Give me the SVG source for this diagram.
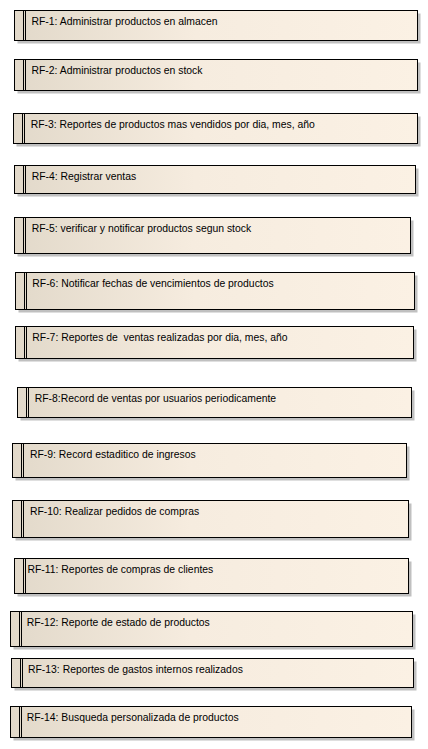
<svg xmlns="http://www.w3.org/2000/svg" width="428" height="749" viewBox="0 0 428 749">
<defs>
<linearGradient id="g" x1="0" y1="0" x2="1" y2="0">
<stop offset="0" stop-color="#e2d9ca"/>
<stop offset="0.45" stop-color="#f6ecdf"/>
<stop offset="1" stop-color="#fbf1e4"/>
</linearGradient>
</defs>
<style>
.sh{fill:#c0c0c0;stroke:none}
.bx{fill:url(#g);stroke:#000;stroke-width:1}
.bar{stroke:#000;stroke-width:1;fill:none}
.t{font-family:"Liberation Sans",Arial,sans-serif;font-size:10.4px;fill:#000}
</style>
<rect width="428" height="749" fill="#fff"/>
<g id="RF-1">
<rect class="sh" x="17.5" y="13.5" width="403" height="30"/>
<rect class="bx" x="14.5" y="10.5" width="403" height="30"/>
<path class="bar" d="M23.5 10.5V40.5M25.5 10.5V40.5"/>
<text class="t" x="31.5" y="25">RF-1: Administrar productos en almacen</text>
</g>
<g id="RF-2">
<rect class="sh" x="17.5" y="62.5" width="403" height="31"/>
<rect class="bx" x="14.5" y="59.5" width="403" height="31"/>
<path class="bar" d="M23.5 59.5V90.5M25.5 59.5V90.5"/>
<text class="t" x="31.5" y="74">RF-2: Administrar productos en stock</text>
</g>
<g id="RF-3">
<rect class="sh" x="16.5" y="116.5" width="404" height="30"/>
<rect class="bx" x="13.5" y="113.5" width="404" height="30"/>
<path class="bar" d="M22.5 113.5V143.5M24.5 113.5V143.5"/>
<text class="t" x="30.7" y="128">RF-3: Reportes de productos mas vendidos por dia, mes, año</text>
</g>
<g id="RF-4">
<rect class="sh" x="17.5" y="168.5" width="401" height="28"/>
<rect class="bx" x="14.5" y="165.5" width="401" height="28"/>
<path class="bar" d="M23.5 165.5V193.5M25.5 165.5V193.5"/>
<text class="t" x="31.7" y="180">RF-4: Registrar ventas</text>
</g>
<g id="RF-5">
<rect class="sh" x="17.5" y="220.5" width="396" height="36"/>
<rect class="bx" x="14.5" y="217.5" width="396" height="36"/>
<path class="bar" d="M23.5 217.5V253.5M25.5 217.5V253.5"/>
<text class="t" x="31.7" y="232">RF-5: verificar y notificar productos segun stock</text>
</g>
<g id="RF-6">
<rect class="sh" x="18.5" y="275.5" width="399" height="37"/>
<rect class="bx" x="15.5" y="272.5" width="399" height="37"/>
<path class="bar" d="M24.5 272.5V309.5M26.5 272.5V309.5"/>
<text class="t" x="32.3" y="287">RF-6: Notificar fechas de vencimientos de productos</text>
</g>
<g id="RF-7">
<rect class="sh" x="18.5" y="329.5" width="398" height="32"/>
<rect class="bx" x="15.5" y="326.5" width="398" height="32"/>
<path class="bar" d="M24.5 326.5V358.5M26.5 326.5V358.5"/>
<text class="t" x="32.3" y="341" xml:space="preserve">RF-7: Reportes de  ventas realizadas por dia, mes, año</text>
</g>
<g id="RF-8">
<rect class="sh" x="20.5" y="390.5" width="394" height="30"/>
<rect class="bx" x="17.5" y="387.5" width="394" height="30"/>
<path class="bar" d="M26.5 387.5V417.5M28.5 387.5V417.5"/>
<text class="t" x="34.7" y="402">RF-8:Record de ventas por usuarios periodicamente</text>
</g>
<g id="RF-9">
<rect class="sh" x="15.5" y="446.5" width="394" height="34"/>
<rect class="bx" x="12.5" y="443.5" width="394" height="34"/>
<path class="bar" d="M21.5 443.5V477.5M23.5 443.5V477.5"/>
<text class="t" x="30" y="457.5">RF-9: Record estaditico de ingresos</text>
</g>
<g id="RF-10">
<rect class="sh" x="15.5" y="503.5" width="396" height="37"/>
<rect class="bx" x="12.5" y="500.5" width="396" height="37"/>
<path class="bar" d="M21.5 500.5V537.5M23.5 500.5V537.5"/>
<text class="t" x="30" y="515">RF-10: Realizar pedidos de compras</text>
</g>
<g id="RF-11">
<rect class="sh" x="17.5" y="561.5" width="394" height="35"/>
<rect class="bx" x="14.5" y="558.5" width="394" height="35"/>
<path class="bar" d="M23.5 558.5V593.5M25.5 558.5V593.5"/>
<text class="t" x="27.5" y="573">RF-11: Reportes de compras de clientes</text>
</g>
<g id="RF-12">
<rect class="sh" x="13.5" y="614.5" width="402" height="35"/>
<rect class="bx" x="10.5" y="611.5" width="402" height="35"/>
<path class="bar" d="M19.5 611.5V646.5M21.5 611.5V646.5"/>
<text class="t" x="26.7" y="626">RF-12: Reporte de estado de productos</text>
</g>
<g id="RF-13">
<rect class="sh" x="14.5" y="661.5" width="402" height="29"/>
<rect class="bx" x="11.5" y="658.5" width="402" height="29"/>
<path class="bar" d="M20.5 658.5V687.5M22.5 658.5V687.5"/>
<text class="t" x="28" y="673">RF-13: Reportes de gastos internos realizados</text>
</g>
<g id="RF-14">
<rect class="sh" x="13.5" y="709.5" width="401" height="31"/>
<rect class="bx" x="10.5" y="706.5" width="401" height="31"/>
<path class="bar" d="M19.5 706.5V737.5M21.5 706.5V737.5"/>
<text class="t" x="26.7" y="721">RF-14: Busqueda personalizada de productos</text>
</g>
<g id="connectors"/>
</svg>
